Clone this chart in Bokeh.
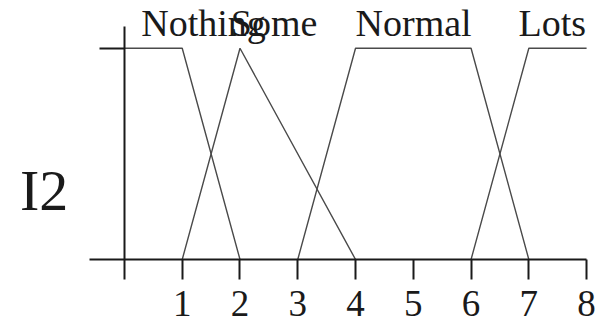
from bokeh.plotting import figure
from bokeh.models import LinearAxis, FixedTicker, Range1d
from bokeh.core.properties import value
from bokeh.embed import file_html
from bokeh.resources import INLINE

# Fuzzy membership functions for input I2
nothing_x = [0, 1, 2]
nothing_y = [1, 1, 0]
some_x = [1, 2, 4]
some_y = [0, 1, 0]
normal_x = [3, 4, 6, 7]
normal_y = [0, 1, 1, 0]
lots_x = [6, 7, 8]
lots_y = [0, 1, 1]

set_names = ["Nothing", "Some", "Normal", "Lots"]
name_x = [0.29, 1.84, 4.0, 6.82]
name_y = [1.12, 1.12, 1.12, 1.12]

x_ticks = [0, 1, 2, 3, 4, 5, 6, 7, 8]
x_tick_labels = {0: "", 1: "1", 2: "2", 3: "3", 4: "4", 5: "5", 6: "6", 7: "7", 8: "8"}
var_name = "I2"

SERIF = "Liberation Serif"
INK = "#1a1a1a"
LINE = "#4a4a4a"

p = figure(width=604, height=327, output_backend="svg", toolbar_location=None,
           x_axis_type=None, y_axis_type=None, min_border=0,
           x_range=Range1d(-2.146, 8.31), y_range=Range1d(-0.322, 1.226))
p.outline_line_color = None
p.xgrid.visible = False
p.ygrid.visible = False
p.background_fill_color = "white"
p.border_fill_color = "white"

# horizontal axis through y = 0, with downward ticks
xa = LinearAxis(fixed_location=0, bounds=(-0.6, 8),
                ticker=FixedTicker(ticks=x_ticks),
                major_label_overrides=x_tick_labels)
xa.axis_line_color = INK
xa.axis_line_width = 2
xa.major_tick_line_color = INK
xa.major_tick_line_width = 2
xa.major_tick_out = 20
xa.major_tick_in = 0
xa.minor_tick_line_color = None
xa.major_label_text_font = SERIF
xa.major_label_text_font_size = "37px"
xa.major_label_text_color = INK
xa.major_label_standoff = 12
p.add_layout(xa, "below")

# vertical axis through x = 0, with a single tick at membership 1
ya = LinearAxis(fixed_location=0, bounds=(0, 1.105),
                ticker=FixedTicker(ticks=[1]),
                major_label_overrides={1: ""})
ya.axis_line_color = INK
ya.axis_line_width = 2
ya.major_tick_line_color = INK
ya.major_tick_line_width = 2
ya.major_tick_out = 25
ya.major_tick_in = 0
ya.minor_tick_line_color = None
ya.major_label_text_font_size = "0px"
p.add_layout(ya, "left")

for xs, ys in [(nothing_x, nothing_y), (some_x, some_y),
               (normal_x, normal_y), (lots_x, lots_y)]:
    p.line(xs, ys, line_color=LINE, line_width=1.4)

p.text(x=name_x, y=name_y, text=set_names, text_font=value(SERIF),
       text_font_size="38px", text_color=INK,
       text_align="left", text_baseline="alphabetic")

p.text(x=[-1.81], y=[0.326], text=[var_name], text_font=value(SERIF),
       text_font_size="58px", text_color=INK,
       text_align="left", text_baseline="alphabetic")

open("out.html", "w").write(file_html(p, INLINE))
